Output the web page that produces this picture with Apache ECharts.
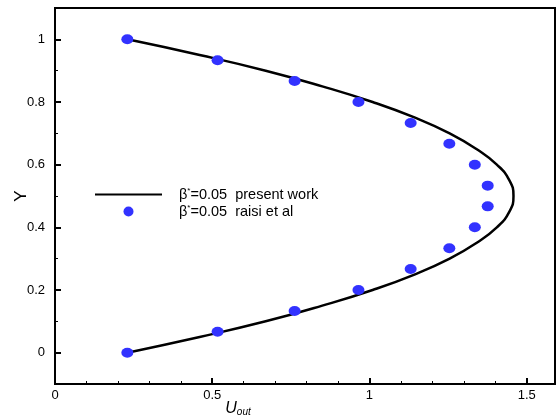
<!DOCTYPE html>
<html>
<head>
<meta charset="utf-8">
<script src="https://cdn.jsdelivr.net/npm/echarts@6/dist/echarts.min.js"></script>
<style>html,body{margin:0;padding:0;background:#fff}#c{width:556px;height:419px}</style>
</head>
<body>
<div id="c"></div>
<script>
// Present work curve
const curveY = [0,0.05,0.1,0.15,0.2,0.25,0.3,0.35,0.4,0.45,0.5,0.55,0.6,0.65,0.7,0.75,0.8,0.85,0.9,0.95,1];
const curveX = [0.23,0.46,0.67,0.85,1.01,1.145,1.255,1.34,1.405,1.445,1.458,1.445,1.405,1.34,1.255,1.145,1.01,0.85,0.67,0.46,0.23];
// Raisi et al points
const dotY = [0,0.067,0.133,0.2,0.267,0.333,0.4,0.467,0.533,0.6,0.667,0.733,0.8,0.867,0.933,1];
const dotX = [0.23,0.517,0.762,0.965,1.131,1.254,1.335,1.376,1.376,1.335,1.254,1.131,0.965,0.762,0.517,0.23];
const xTicks = [0,0.5,1,1.5];
const yTicks = [0,0.2,0.4,0.6,0.8,1];
const seriesNames = ['β*=0.05 present work','β*=0.05 raisi et al'];
const legendLabels = ['present work','raisi et al'];

const font = 'Liberation Sans, Arial, sans-serif';
const chart = echarts.init(document.getElementById('c'));
chart.setOption({
  animation: false,
  backgroundColor: '#fff',
  grid: {left: 55, right: 1, top: 8, bottom: 35, show: true, borderColor: '#000', borderWidth: 2,
    outerBoundsMode: 'none', containLabel: false},
  legend: {
    orient: 'vertical', left: 89, top: 182, itemWidth: 67, itemHeight: 10, itemGap: 2,
    data: [{name: seriesNames[0], itemStyle: {opacity: 0}}, {name: seriesNames[1], icon: 'circle'}],
    formatter: function (n) {
      const i = seriesNames.indexOf(n);
      return '{b|β}{s|*}{t|=0.05  ' + legendLabels[i] + '}';
    },
    textStyle: {
      fontFamily: font, fontSize: 14.5, color: '#000', padding: [0, 0, 0, 12],
      rich: {
        b: {fontFamily: font, fontSize: 14.5, color: '#000', lineHeight: 15},
        s: {fontFamily: font, fontSize: 8, color: '#000', lineHeight: 15, verticalAlign: 'top', padding: [0,0,6,0]},
        t: {fontFamily: font, fontSize: 14.5, color: '#000', lineHeight: 15}
      }
    }
  },
  xAxis: {
    type: 'value', min: 0, max: 1.59, interval: 0.5,
    name: '{u|U}{o|out}', nameLocation: 'middle', nameGap: 17, nameMoveOverlap: false,
    nameTextStyle: {
      padding: [0, 134, 0, 0],
      rich: {
        u: {fontFamily: font, fontSize: 16, fontStyle: 'italic', color: '#000'},
        o: {fontFamily: font, fontSize: 10, fontStyle: 'italic', color: '#000', verticalAlign: 'bottom', padding: [6,0,0,0]}
      }
    },
    axisLine: {onZero: false, lineStyle: {color: '#000', width: 2}},
    axisTick: {inside: true, length: 6, lineStyle: {color: '#000', width: 2}},
    minorTick: {show: true, splitNumber: 5, length: 3, lineStyle: {color: '#000', width: 1}},
    axisLabel: {fontFamily: font, fontSize: 13, color: '#000', margin: 5, customValues: xTicks},
    splitLine: {show: false}
  },
  yAxis: [{
    type: 'value', min: -0.1, max: 1.1,
    name: 'Y', nameLocation: 'middle', nameGap: 25, nameRotate: 90, nameMoveOverlap: false,
    nameTextStyle: {fontFamily: font, fontSize: 17, color: '#000'},
    axisLine: {onZero: false, lineStyle: {color: '#000', width: 2}},
    axisTick: {inside: true, length: 6, lineStyle: {color: '#000', width: 2}, customValues: yTicks},
    axisLabel: {fontFamily: font, fontSize: 13, color: '#000', margin: 10, customValues: yTicks},
    splitLine: {show: false}
  }, {
    type: 'value', min: -0.1, max: 1.1, interval: 0.1, position: 'left', offset: 0,
    axisLine: {show: false, onZero: false},
    axisTick: {inside: true, length: 3, lineStyle: {color: '#000', width: 1}},
    axisLabel: {show: false},
    splitLine: {show: false}
  }],
  series: [{
    name: seriesNames[0], type: 'line', smooth: true, symbol: 'none',
    lineStyle: {color: '#000', width: 2.5},
    itemStyle: {color: '#000'},
    data: curveX.map((x, i) => [x, curveY[i]]),
    z: 2
  }, {
    name: seriesNames[1], type: 'scatter', symbol: 'circle', symbolSize: [12, 10],
    itemStyle: {color: '#3232ff', opacity: 1},
    data: dotX.map((x, i) => [x, dotY[i]]),
    z: 3
  }]
});
</script>
</body>
</html>
